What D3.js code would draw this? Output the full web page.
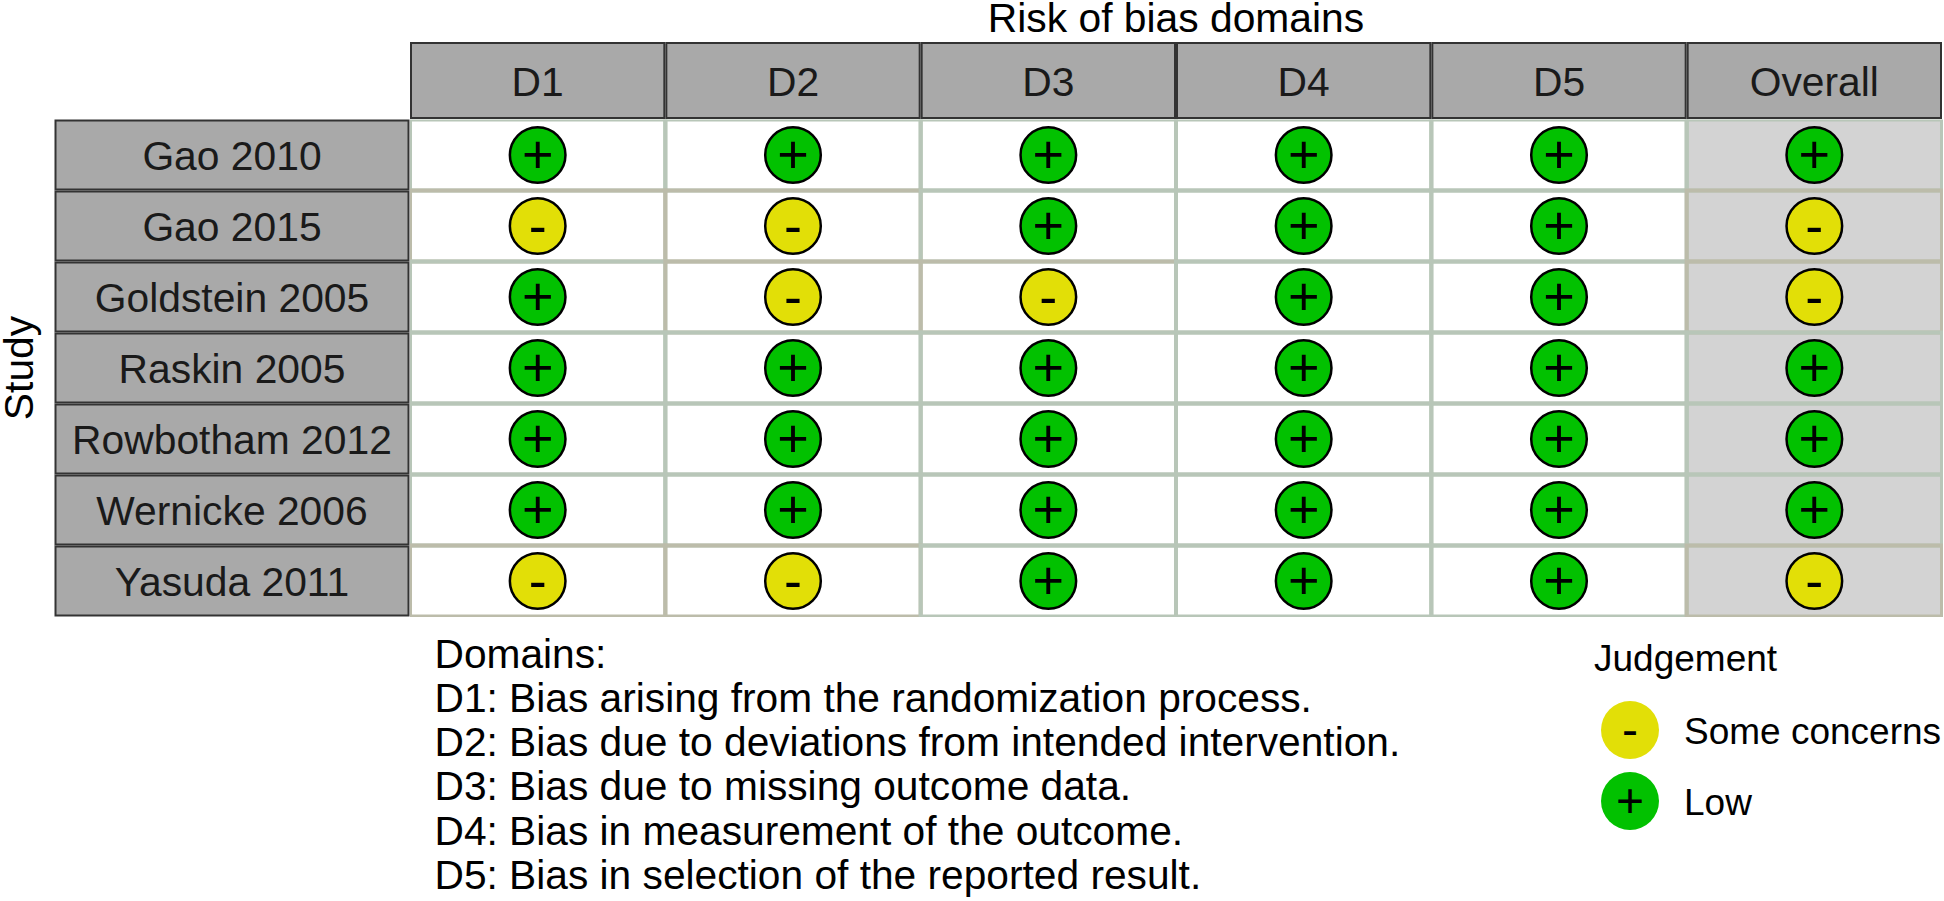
<!DOCTYPE html>
<html>
<head>
<meta charset="utf-8">
<script src="https://d3js.org/d3.v7.min.js"></script>
<style>
  body { margin: 0; background: #fff; }
  text { font-family: "Liberation Sans", Arial, sans-serif; }
</style>
</head>
<body>
<div id="chart-area"></div>
<script>
const domains = ["D1", "D2", "D3", "D4", "D5", "Overall"];
const studies = ["Gao 2010", "Gao 2015", "Goldstein 2005", "Raskin 2005", "Rowbotham 2012", "Wernicke 2006", "Yasuda 2011"];

const gao2010 = ["+", "+", "+", "+", "+", "+"];
const gao2015 = ["-", "-", "+", "+", "+", "-"];
const goldstein2005 = ["+", "-", "-", "+", "+", "-"];
const raskin2005 = ["+", "+", "+", "+", "+", "+"];
const rowbotham2012 = ["+", "+", "+", "+", "+", "+"];
const wernicke2006 = ["+", "+", "+", "+", "+", "+"];
const yasuda2011 = ["-", "-", "+", "+", "+", "-"];
const judgements = [gao2010, gao2015, goldstein2005, raskin2005, rowbotham2012, wernicke2006, yasuda2011];

const legendSymbols = ["-", "+"];
const legendLabels = ["Some concerns", "Low"];
const domainNotes = [
  "Domains:",
  "D1: Bias arising from the randomization process.",
  "D2: Bias due to deviations from intended intervention.",
  "D3: Bias due to missing outcome data.",
  "D4: Bias in measurement of the outcome.",
  "D5: Bias in selection of the reported result."
];

const colors = { "+": "#02C100", "-": "#E2DF07" };
const lineColors = { "+": "#b8c6b8", "-": "#bcbcaa" };

const svg = d3.select("#chart-area")
  .append("svg")
  .attr("width", 1944)
  .attr("height", 901)
  .style("display", "block");

const x = d3.scaleBand().domain(domains).range([410, 1942]);
const y = d3.scaleBand().domain(studies).range([119.5, 616.5]);

const cells = judgements.flatMap((row, i) =>
  row.map((j, k) => ({ study: studies[i], domain: domains[k], j })));

// panel, clipped so the outer grid lines come out thin
svg.append("clipPath").attr("id", "panel")
  .append("rect")
  .attr("x", 410).attr("y", 119.5)
  .attr("width", 1533).attr("height", 497.5);

const panel = svg.append("g").attr("clip-path", "url(#panel)");

panel.selectAll("rect.cell")
  .data(cells)
  .enter()
  .append("rect")
  .attr("class", "cell")
  .attr("x", d => x(d.domain))
  .attr("y", d => y(d.study))
  .attr("width", x.bandwidth())
  .attr("height", y.bandwidth())
  .attr("fill", d => d.domain === "Overall" ? "#d3d3d3" : "#fff");

panel.selectAll("rect.line")
  .data(cells)
  .enter()
  .append("rect")
  .attr("class", "line")
  .attr("x", d => x(d.domain))
  .attr("y", d => y(d.study))
  .attr("width", x.bandwidth())
  .attr("height", y.bandwidth())
  .attr("fill", "none")
  .attr("stroke", d => lineColors[d.j])
  .attr("stroke-width", 4);

// strips
svg.selectAll("rect.top")
  .data(domains)
  .enter()
  .append("rect")
  .attr("class", "top")
  .attr("x", d => x(d) + 1)
  .attr("y", 43)
  .attr("width", x.bandwidth() - 2)
  .attr("height", 75)
  .attr("fill", "#a9a9a9")
  .attr("stroke", "#333")
  .attr("stroke-width", 2);

svg.selectAll("text.top")
  .data(domains)
  .enter()
  .append("text")
  .attr("class", "top")
  .attr("x", d => x(d) + x.bandwidth() / 2)
  .attr("y", 96)
  .attr("text-anchor", "middle")
  .attr("font-size", "40.8px")
  .attr("fill", "#1a1a1a")
  .text(d => d);

svg.selectAll("rect.side")
  .data(studies)
  .enter()
  .append("rect")
  .attr("class", "side")
  .attr("x", 55.5)
  .attr("y", d => y(d) + 1)
  .attr("width", 353)
  .attr("height", y.bandwidth() - 2)
  .attr("fill", "#a9a9a9")
  .attr("stroke", "#333")
  .attr("stroke-width", 2);

svg.selectAll("text.side")
  .data(studies)
  .enter()
  .append("text")
  .attr("class", "side")
  .attr("x", 232)
  .attr("y", d => y(d) + y.bandwidth() / 2 + 14.5)
  .attr("text-anchor", "middle")
  .attr("font-size", "40.8px")
  .attr("fill", "#1a1a1a")
  .text(d => d);

// points
svg.selectAll("circle.point")
  .data(cells)
  .enter()
  .append("circle")
  .attr("class", "point")
  .attr("cx", d => x(d.domain) + x.bandwidth() / 2)
  .attr("cy", d => y(d.study) + y.bandwidth() / 2)
  .attr("r", 27.8)
  .attr("fill", d => colors[d.j])
  .attr("stroke", "#000")
  .attr("stroke-width", 2.5);

svg.selectAll("text.point")
  .data(cells)
  .enter()
  .append("text")
  .attr("class", "point")
  .attr("x", d => x(d.domain) + x.bandwidth() / 2)
  .attr("y", d => y(d.study) + y.bandwidth() / 2 + 18)
  .attr("text-anchor", "middle")
  .attr("font-size", "54px")
  .attr("fill", "#000")
  .text(d => d.j);

// titles
svg.append("text")
  .attr("x", 1176)
  .attr("y", 32)
  .attr("text-anchor", "middle")
  .attr("font-size", "40.8px")
  .attr("fill", "#000")
  .text("Risk of bias domains");

svg.append("text")
  .attr("transform", "rotate(-90)")
  .attr("x", -368)
  .attr("y", 33)
  .attr("text-anchor", "middle")
  .attr("font-size", "40.8px")
  .attr("fill", "#000")
  .text("Study");

// domain notes
const noteY = d3.scalePoint().domain(domainNotes).range([667.7, 889]);

svg.selectAll("text.note")
  .data(domainNotes)
  .enter()
  .append("text")
  .attr("class", "note")
  .attr("x", 434.5)
  .attr("y", d => noteY(d))
  .attr("font-size", "40.7px")
  .attr("fill", "#000")
  .text(d => d);

// legend
svg.append("text")
  .attr("x", 1594)
  .attr("y", 671)
  .attr("font-size", "37px")
  .attr("fill", "#000")
  .text("Judgement");

const legendY = d3.scalePoint().domain(legendSymbols).range([730, 801]);

svg.selectAll("circle.legend")
  .data(legendSymbols)
  .enter()
  .append("circle")
  .attr("class", "legend")
  .attr("cx", 1630)
  .attr("cy", d => legendY(d))
  .attr("r", 29)
  .attr("fill", d => colors[d]);

svg.selectAll("text.legend-symbol")
  .data(legendSymbols)
  .enter()
  .append("text")
  .attr("class", "legend-symbol")
  .attr("x", 1630)
  .attr("y", d => legendY(d) + 16)
  .attr("text-anchor", "middle")
  .attr("font-size", "48px")
  .attr("fill", "#000")
  .text(d => d);

svg.selectAll("text.legend-label")
  .data(legendSymbols)
  .enter()
  .append("text")
  .attr("class", "legend-label")
  .attr("x", 1684)
  .attr("y", d => legendY(d) + 14)
  .attr("font-size", "37px")
  .attr("fill", "#000")
  .text((d, i) => legendLabels[i]);
</script>
</body>
</html>
